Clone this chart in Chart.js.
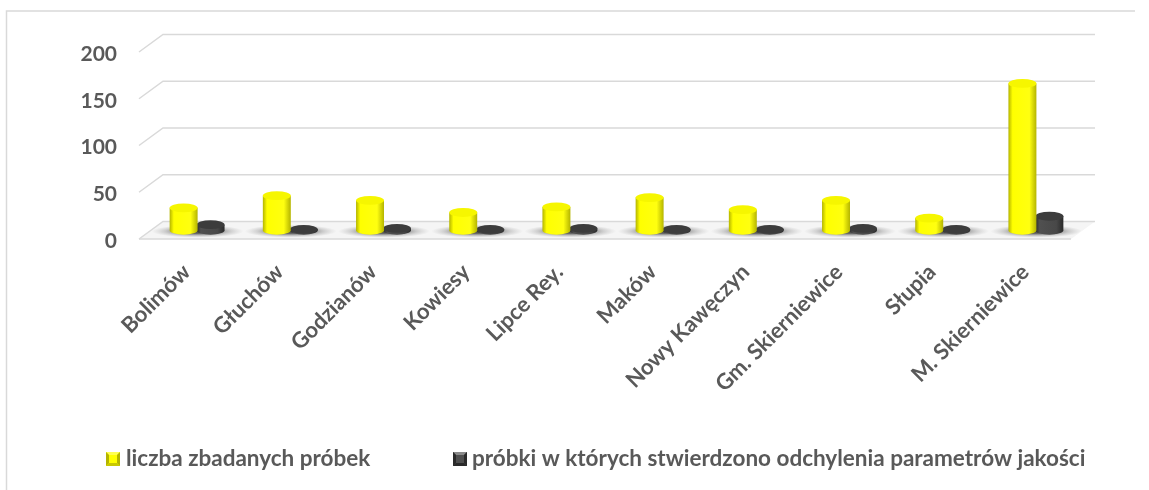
<!DOCTYPE html>
<html>
<head>
<meta charset="utf-8"/>
<style>
  html,body{margin:0;padding:0;background:#fff;}
  canvas{display:block;}
</style>
</head>
<body>
<canvas id="c" width="1149" height="490"></canvas>
<script src="https://cdn.jsdelivr.net/npm/chart.js@4.4.0/dist/chart.umd.min.js"></script>
<script>
const categories = ["Bolimów","Głuchów","Godzianów","Kowiesy","Lipce Rey.","Maków","Nowy Kawęczyn","Gm. Skierniewice","Słupia","M. Skierniewice"];
const zbadane    = [24,37,32,19,25,35,22,32,13,157];
const odchylenia = [6,1,2,1,2,1,1,2,1,15];
const yTicks     = [0,50,100,150,200];
const seriesNames = ["liczba zbadanych próbek","próbki w których stwierdzono odchylenia parametrów jakości"];

const FONT = "Lato";
const GREY = "#595959";
const LINE = "#d9d9d9";
// glebokosc "3D": przesuniecie tylnej sciany wzgledem przedniej
const DEPTH_X = 24, DEPTH_Y = 17.5;

const palette = [
  { edge:"#b4b400", mid:"#ffff00", light:"#ffff10", top:"#f6f600", hi:"#ffff50", lo:"#c8c800" },
  { edge:"#2a2a2a", mid:"#505050", light:"#484848", top:"#3c3c3c", hi:"#8a8a8a", lo:"#2a2a2a" }
];

function drawCylinder(ctx, x, top, base, w, col) {
  const rx = w/2, ry = 4.4;
  const g = ctx.createLinearGradient(x-rx,0,x+rx,0);
  g.addColorStop(0, col.edge);
  g.addColorStop(0.15, col.mid);
  g.addColorStop(0.75, col.light);
  g.addColorStop(1, col.edge);
  ctx.fillStyle = g;
  ctx.beginPath();
  ctx.ellipse(x,base,rx,ry,0,0,Math.PI);
  ctx.lineTo(x-rx,top);
  ctx.lineTo(x+rx,top);
  ctx.closePath();
  ctx.fill();
  ctx.fillStyle = col.top;
  ctx.beginPath();
  ctx.ellipse(x,top,rx,ry,0,0,Math.PI*2);
  ctx.fill();
}

const stage3d = {
  id:"stage3d",
  beforeDatasetsDraw(chart) {
    const { ctx, chartArea:a, scales:{ y, x } } = chart;
    ctx.save();
    // podloga
    const y0 = y.getPixelForValue(0);
    ctx.fillStyle = "#f5f5f5";
    ctx.beginPath();
    ctx.moveTo(a.left,y0);
    ctx.lineTo(a.right,y0);
    ctx.lineTo(a.right+DEPTH_X,y0-DEPTH_Y);
    ctx.lineTo(a.left+DEPTH_X,y0-DEPTH_Y);
    ctx.closePath();
    ctx.fill();
    // linie siatki: skos + tylna sciana
    ctx.strokeStyle = LINE;
    ctx.lineWidth = 1.5;
    yTicks.forEach(v => {
      const py = y.getPixelForValue(v);
      ctx.beginPath();
      ctx.moveTo(a.left,py);
      ctx.lineTo(a.left+DEPTH_X,py-DEPTH_Y);
      ctx.lineTo(a.right+DEPTH_X,py-DEPTH_Y);
      ctx.stroke();
    });
    ctx.beginPath();
    ctx.moveTo(a.left,y0);
    ctx.lineTo(a.right,y0);
    ctx.stroke();
    // cien pod slupkami
    ctx.beginPath();
    ctx.moveTo(a.left+2,y0-1);
    ctx.lineTo(a.right,y0-1);
    ctx.lineTo(a.right+DEPTH_X-2,y0-DEPTH_Y+1);
    ctx.lineTo(a.left+DEPTH_X,y0-DEPTH_Y+1);
    ctx.closePath();
    ctx.clip();
    categories.forEach((c,i) => {
      const cx = x.getPixelForValue(i)+DEPTH_X/2;
      ctx.save();
      ctx.translate(cx,y0-DEPTH_Y/2+1);
      ctx.scale(1,0.14);
      const r = ctx.createRadialGradient(0,0,14,0,0,46);
      r.addColorStop(0,"rgba(60,60,60,.85)");
      r.addColorStop(0.6,"rgba(120,120,120,.3)");
      r.addColorStop(1,"rgba(150,150,150,0)");
      ctx.fillStyle = r;
      ctx.beginPath();
      ctx.arc(0,0,46,0,Math.PI*2);
      ctx.fill();
      ctx.restore();
    });
    ctx.restore();
  },
  // slupki rysowane jako walce, z elementow policzonych przez Chart.js
  beforeDatasetDraw(chart, args) {
    const { ctx } = chart;
    const col = palette[args.index];
    args.meta.data.forEach(el => {
      drawCylinder(ctx, el.x+DEPTH_X/2-(args.index?1:0), el.y-DEPTH_Y/2, el.base-DEPTH_Y/2, el.width, col);
    });
    return false;
  },
  afterDraw(chart) {
    const { ctx } = chart;
    ctx.save();
    // ramka
    ctx.strokeStyle = LINE;
    ctx.lineWidth = 1.5;
    ctx.beginPath();
    ctx.moveTo(6.5,490);
    ctx.lineTo(6.5,11);
    ctx.lineTo(1135,11);
    ctx.stroke();
    // legenda
    ctx.font = "bold 22.5px "+FONT;
    ctx.textBaseline = "middle";
    const items = [[106,126],[453,472]];
    items.forEach(([bx,tx],i) => {
      const c = palette[i];
      const X = bx, Y = 452, S = 14, B = 3;
      ctx.fillStyle = c.mid;
      ctx.fillRect(X,Y,S,S);
      // scosy markera
      [[c.hi,[[X,Y],[X+S,Y],[X+S-B,Y+B],[X+B,Y+B]]],
       [c.lo,[[X,Y+S],[X+S,Y+S],[X+S-B,Y+S-B],[X+B,Y+S-B]]],
       [c.edge,[[X,Y],[X,Y+S],[X+B,Y+S-B],[X+B,Y+B]]],
       [c.edge,[[X+S,Y],[X+S,Y+S],[X+S-B,Y+S-B],[X+S-B,Y+B]]]
      ].forEach(([fill,pts]) => {
        ctx.fillStyle = fill;
        ctx.beginPath();
        pts.forEach((p,k) => k ? ctx.lineTo(p[0],p[1]) : ctx.moveTo(p[0],p[1]));
        ctx.closePath();
        ctx.fill();
      });
      ctx.fillStyle = GREY;
      ctx.fillText(seriesNames[i],tx,459);
    });
    ctx.restore();
  }
};

new Chart(document.getElementById("c"), {
  type:"bar",
  data:{
    labels:categories,
    datasets:[
      { label:seriesNames[0], data:zbadane, backgroundColor:"#ffff00" },
      { label:seriesNames[1], data:odchylenia, backgroundColor:"#555555" }
    ]
  },
  options:{
    responsive:false, animation:false, devicePixelRatio:1,
    layout:{ padding:{ top:52, right:78, bottom:0, left:0 } },
    plugins:{ legend:{ display:false }, tooltip:{ enabled:false } },
    datasets:{ bar:{ categoryPercentage:0.6, barPercentage:1 } },
    scales:{
      x:{
        grid:{ display:false }, border:{ display:false },
        afterFit(s){ s.height = 251; },
        ticks:{ color:GREY, font:{ family:FONT, weight:"bold", size:22 }, maxRotation:45, minRotation:45, autoSkip:false, labelOffset:1, padding:12 }
      },
      y:{
        min:0, max:200,
        grid:{ display:false }, border:{ display:false },
        afterFit(s){ s.width = 139; },
        afterBuildTicks(s){ s.ticks = yTicks.map(v => ({ value:v })); },
        ticks:{ color:GREY, font:{ family:FONT, weight:"bold", size:21 }, padding:14, labelOffset:2 }
      }
    }
  },
  plugins:[stage3d]
});
</script>
</body>
</html>
